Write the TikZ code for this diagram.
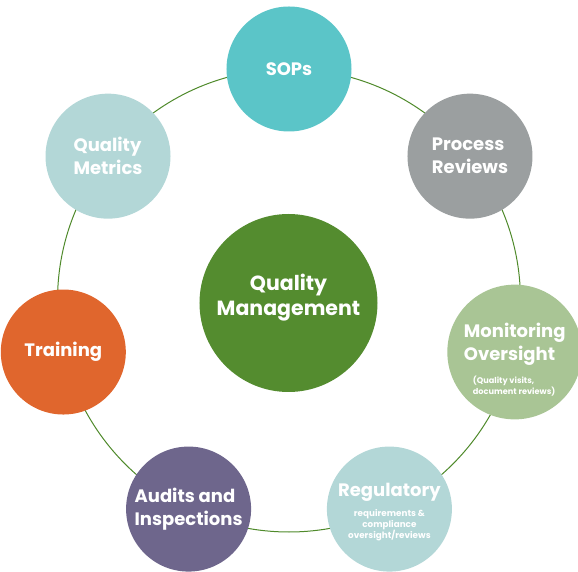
\documentclass[tikz,border=0pt]{standalone}
\usepackage{fontspec}
\setmainfont{Poppins}
\usetikzlibrary{positioning}

\definecolor{ringgreen}{HTML}{4F8A2B}
\definecolor{hubgreen}{HTML}{548C2F}
\definecolor{sopteal}{HTML}{5BC5C8}
\definecolor{procgray}{HTML}{9B9FA0}
\definecolor{monsage}{HTML}{A9C595}
\definecolor{paleteal}{HTML}{B3D7D7}
\definecolor{auditpurple}{HTML}{6E668C}
\definecolor{trainorange}{HTML}{E0662D}

\newcommand{\smalltxt}[2]{{\bfseries\fontsize{#1}{11}\selectfont #2}}

\tikzset{
  petal/.style={circle,minimum size=125pt,inner sep=0pt,text=white,font=\bfseries\fontsize{18}{23}\selectfont,align=center},
  hubnode/.style={circle,minimum size=178pt,inner sep=0pt,text=white,align=center,font=\bfseries\fontsize{20.5}{25}\selectfont}
}

\begin{document}
\begin{tikzpicture}

  \useasboundingbox (-289pt,-271.5pt) rectangle (289pt,300.5pt);

  % ring behind the petals
  \coordinate (hub) at (0,0);
  \draw [ringgreen,line width=1pt] (hub) circle (231.5pt);

  \node [hubnode,fill=hubgreen] (qm) at (-0.5pt,-2.5pt) {Quality\\Management\\[-9pt]\mbox{}};

  \node [petal,fill=sopteal] (sops) at (90:231.5pt) {SOPs};
  \node [petal,fill=procgray,align=left] (proc) at (38.57:231.5pt) {Process\\Reviews};
  \node [petal,fill=monsage,align=left] (mon) at (-12.86:231.5pt)
    {\mbox{}\\[7pt]Monitoring\\Oversight\\[0pt]%
     \hspace*{9pt}\smalltxt{8.2}{(Quality visits,}\\[-11.5pt]%
     \hspace*{9pt}\smalltxt{8.2}{document reviews)}};
  \node [petal,fill=paleteal] (reg) at (-64.29:231.5pt)
    {\mbox{}\\[-4.5pt]Regulatory\\[-3pt]%
     \smalltxt{8.8}{requirements \&}\\[-12pt]%
     \smalltxt{8.8}{compliance}\\[-12pt]%
     \smalltxt{8.8}{oversight/reviews}};
  \node [petal,fill=auditpurple,align=left] (audit) at (-115.71:231.5pt) {Audits and\\Inspections};
  \node [petal,fill=trainorange] (train) at (-167.14:231.5pt) {Training};
  \node [petal,fill=paleteal,align=left] (metric) at (141.43:231.5pt) {Quality\\Metrics};

\end{tikzpicture}
\end{document}
